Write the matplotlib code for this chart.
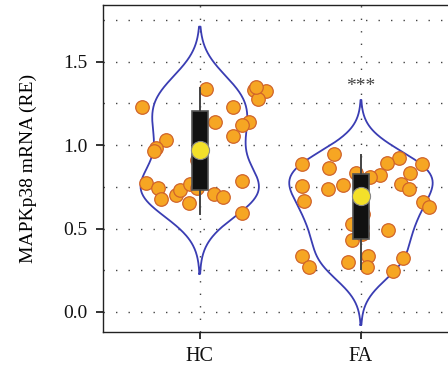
import numpy as np
import matplotlib.pyplot as plt

plt.rcParams['font.family'] = ['Liberation Serif', 'DejaVu Serif']

groups = ['HC', 'FA']

hc_values = [1.228, 1.336, 1.332, 1.326, 1.276, 1.348, 1.228, 1.136, 1.140, 1.122,
             1.052, 1.028, 0.982, 0.962, 0.912, 0.776, 0.742, 0.676, 0.702, 0.732,
             0.766, 0.742, 0.652, 0.706, 0.692, 0.786, 0.592]
hc_jitter = [-0.358, 0.041, 0.335, 0.408, 0.362, 0.352, 0.207, 0.093, 0.304, 0.259,
             0.207, -0.207, -0.269, -0.284, -0.020, -0.335, -0.259, -0.242, -0.145, -0.124,
             -0.062, -0.017, -0.066, 0.089, 0.145, 0.263, 0.265]

# the last few FA samples sit behind the box
fa_values = [0.946, 0.886, 0.866, 0.922, 0.892, 0.888, 0.822, 0.812, 0.832, 0.832,
             0.756, 0.736, 0.762, 0.766, 0.736, 0.666, 0.662, 0.632, 0.528, 0.492,
             0.432, 0.336, 0.272, 0.302, 0.336, 0.268, 0.322, 0.248,
             0.470, 0.550, 0.590, 0.610, 0.510]
fa_jitter = [-0.168, -0.365, -0.199, 0.238, 0.164, 0.377, 0.118, 0.056, -0.031, 0.304,
             -0.363, -0.204, -0.114, 0.248, 0.300, -0.352, 0.383, 0.424, -0.058, 0.170,
             -0.058, -0.365, -0.321, -0.083, 0.042, 0.036, 0.259, 0.197,
             0.005, -0.008, 0.010, 0.000, 0.006]

# box summaries: lower whisker, q1, q3, upper whisker, mean
whisker_lo = [0.586, 0.256]
q1 = [0.732, 0.436]
q3 = [1.206, 0.828]
whisker_hi = [1.342, 0.942]
means = [0.968, 0.696]

# violin kernel bandwidth, tail cut (in bandwidths) and half width
bandwidth = [0.145, 0.125]
cut = [2.5, 2.6]
violin_half = [0.367, 0.445]

signif = ['', '***']
signif_y = [None, 1.35]


def kde_outline(vals, bw, k, n=300):
    vals = np.asarray(vals)
    grid = np.linspace(vals.min() - k * bw, vals.max() + k * bw, n)
    dens = np.exp(-0.5 * ((grid[:, None] - vals[None, :]) / bw) ** 2).sum(axis=1)
    return grid, dens / dens.max()


fig = plt.figure(figsize=(4.48, 3.72), dpi=100)
ax = fig.add_axes([0.23, 0.1075, 0.77, 0.879])

ax.set_xlim(-0.6, 1.54)
ax.set_ylim(-0.12, 1.84)

# dotted grid
for yv in np.arange(0, 1.76, 0.25):
    ax.axhline(yv, color='#444444', lw=1.0, linestyle=(0, (1, 8)), zorder=0)
for i in range(len(groups)):
    ax.axvline(i, color='#444444', lw=1.0, linestyle=(0, (1, 8)), zorder=0)

data = [(hc_values, hc_jitter), (fa_values, fa_jitter)]
for i, (vals, jit) in enumerate(data):
    grid, dens = kde_outline(vals, bandwidth[i], cut[i])
    w = dens * violin_half[i]
    xs = np.concatenate([i - w, (i + w)[::-1], [i - w[0]]])
    ys = np.concatenate([grid, grid[::-1], [grid[0]]])
    ax.plot(xs, ys, color='#3a3db3', lw=1.3, zorder=2)

    ax.scatter(i + np.asarray(jit), vals, s=95, color='#f6a623',
               edgecolor='#d0642a', linewidth=0.9, zorder=3)

stats = []
for i in range(len(groups)):
    stats.append(dict(med=means[i], q1=q1[i], q3=q3[i],
                      whislo=whisker_lo[i], whishi=whisker_hi[i], fliers=[]))
ax.bxp(stats, positions=range(len(groups)), widths=0.1, patch_artist=True,
       showcaps=False, showfliers=False,
       boxprops=dict(facecolor='#111111', edgecolor='#555555', linewidth=1.2),
       whiskerprops=dict(color='#444444', linewidth=1.4),
       medianprops=dict(linewidth=0),
       zorder=4)

ax.scatter(range(len(groups)), means, s=170, color='#f3e02a',
           edgecolor='#888888', linewidth=0.8, zorder=5)

for i, s in enumerate(signif):
    if s:
        ax.text(i, signif_y[i], s, ha='center', va='center', fontsize=14,
                color='#444444')

ax.set_xticks(range(len(groups)))
ax.set_xticklabels(groups, fontsize=14.5)
ax.set_yticks([0.0, 0.5, 1.0, 1.5])
ax.set_yticklabels(['0.0', '0.5', '1.0', '1.5'], fontsize=14)
ax.tick_params(axis='both', direction='out', length=5, width=1.2, pad=6,
               colors='#111111')
ax.set_ylabel('MAPKp38 mRNA (RE)', fontsize=14, labelpad=19)

ax.spines['right'].set_visible(False)
for sp in ['left', 'top', 'bottom']:
    ax.spines[sp].set_linewidth(1.0)
    ax.spines[sp].set_color('#222222')

fig.savefig('out.png', dpi=100)
